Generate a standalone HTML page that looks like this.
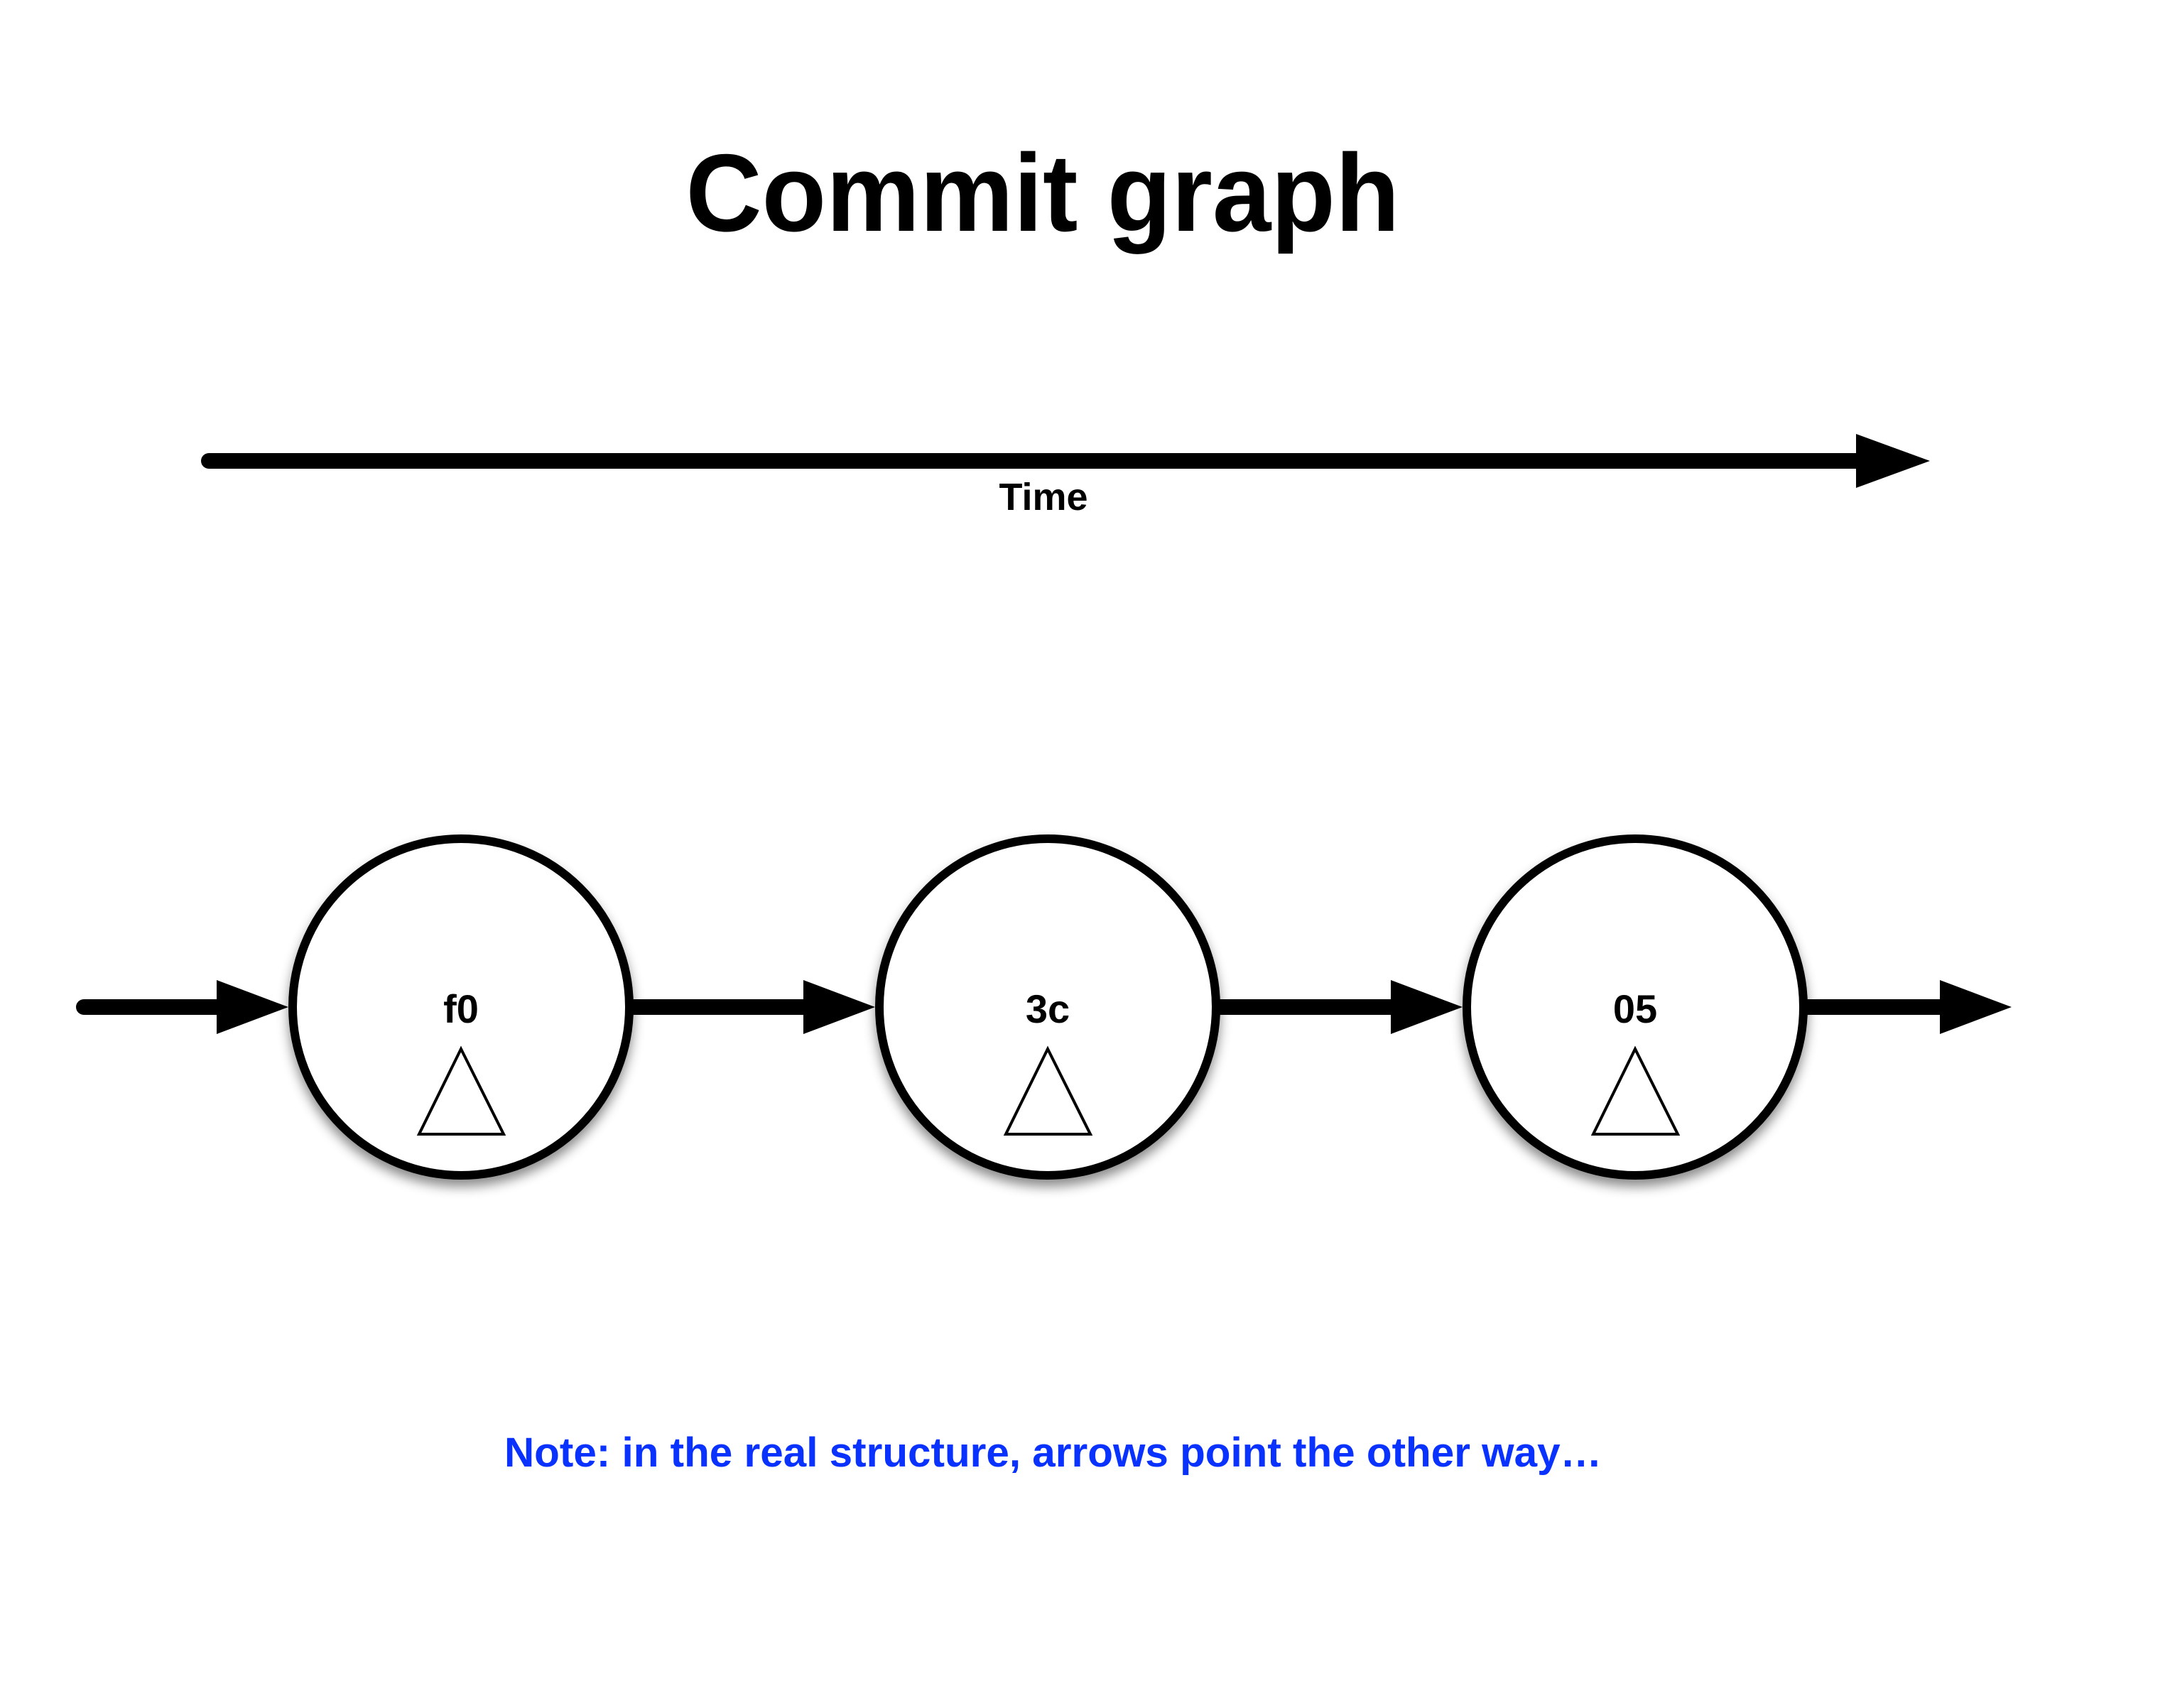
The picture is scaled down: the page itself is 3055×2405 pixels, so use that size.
<!DOCTYPE html>
<html><head><meta charset="utf-8"><style>
html,body{margin:0;padding:0;background:#fff;}
svg{display:block;}
text{font-family:"Liberation Sans",sans-serif;font-weight:bold;}
</style></head><body>
<svg width="3055" height="2405" viewBox="0 0 3055 2405" xmlns="http://www.w3.org/2000/svg">
<defs>
<filter id="sh" x="-20%" y="-20%" width="140%" height="150%">
<feDropShadow dx="0" dy="10" stdDeviation="8" flood-color="#000" flood-opacity="0.45"/>
</filter>
</defs>
<rect width="3055" height="2405" fill="#fff"/>
<text x="1468" y="325" font-size="155" text-anchor="middle" textLength="1005" lengthAdjust="spacingAndGlyphs">Commit graph</text>
<line x1="294" y1="649" x2="2620" y2="649" stroke="#000" stroke-width="22" stroke-linecap="round"/>
<polygon points="2613,611 2717,649 2613,687" fill="#000"/>
<text x="1469" y="718" font-size="54" text-anchor="middle">Time</text>

<g stroke="#000" stroke-width="22" stroke-linecap="round">
<line x1="118" y1="1418" x2="310" y2="1418"/>
<line x1="892" y1="1418" x2="1140" y2="1418"/>
<line x1="1718" y1="1418" x2="1965" y2="1418"/>
<line x1="2545" y1="1418" x2="2740" y2="1418"/>
</g>
<g fill="#000">
<polygon points="305,1380 406,1418 305,1456"/>
<polygon points="1131,1380 1232,1418 1131,1456"/>
<polygon points="1958,1380 2059,1418 1958,1456"/>
<polygon points="2731,1380 2832,1418 2731,1456"/>
</g>
<g fill="#fff" stroke="#000" stroke-width="12" filter="url(#sh)">
<circle cx="649" cy="1418" r="237"/>
<circle cx="1475" cy="1418" r="237"/>
<circle cx="2302" cy="1418" r="237"/>
</g>
<g font-size="56" text-anchor="middle">
<text x="649" y="1440">f0</text>
<text x="1475" y="1440">3c</text>
<text x="2302" y="1440">05</text>
</g>
<g fill="none" stroke="#000" stroke-width="4">
<polygon points="649,1477 709,1597 590,1597"/>
<polygon points="1475,1477 1535,1597 1416,1597"/>
<polygon points="2302,1477 2362,1597 2243,1597"/>
</g>
<text x="710" y="2065" font-size="58" fill="#0a32ff" textLength="1545" lengthAdjust="spacingAndGlyphs">Note: in the real structure, arrows point the other way…</text>
</svg>
</body></html>
